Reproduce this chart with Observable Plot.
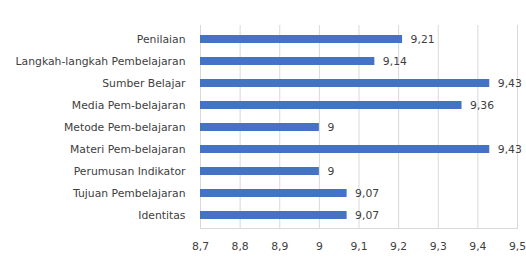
<!DOCTYPE html>
<html><head><meta charset="utf-8">
<script src="https://cdn.jsdelivr.net/npm/d3@7"></script>
<script src="https://cdn.jsdelivr.net/npm/@observablehq/plot@0.6"></script>
<style>body{margin:0;background:#fff}</style>
</head><body><div id="chart"></div>
<script>
const categories = ["Penilaian","Langkah-langkah Pembelajaran","Sumber Belajar","Media Pem-belajaran","Metode Pem-belajaran","Materi Pem-belajaran","Perumusan Indikator","Tujuan Pembelajaran","Identitas"];
const values = [9.21,9.14,9.43,9.36,9,9.43,9,9.07,9.07];
const xTicks = [8.7,8.8,8.9,9,9.1,9.2,9.3,9.4,9.5];
const base = 8.7;
const data = categories.map((c,i)=>({cat:c, v:values[i]}));
const fmt = v => String(v).replace(".", ",");
const chart = Plot.plot({
  width: 526, height: 264,
  marginLeft: 200, marginRight: 9, marginTop: 25, marginBottom: 36,
  style: {fontFamily: "'DejaVu Sans', sans-serif", fontSize: "10.8px", color: "#404040"},
  x: {domain: [8.7, 9.5], ticks: xTicks, tickFormat: fmt, tickSize: 0, label: null, tickPadding: 14},
  y: {domain: categories, paddingInner: 0.64, paddingOuter: 0.32, label: null, tickSize: 0, tickPadding: 15},
  marks: [
    Plot.gridX(xTicks, {stroke: "#d9d9d9", strokeOpacity: 1}),
    Plot.frame({anchor: "bottom", stroke: "#d9d9d9"}),
    Plot.barX(data, {x1: base, x2: "v", y: "cat", fill: "#4472c4"}),
    Plot.text(data, {x: "v", y: "cat", text: d => fmt(d.v), textAnchor: "start", dx: 8, fill: "#404040"})
  ]
});
document.getElementById("chart").append(chart);
</script></body></html>
